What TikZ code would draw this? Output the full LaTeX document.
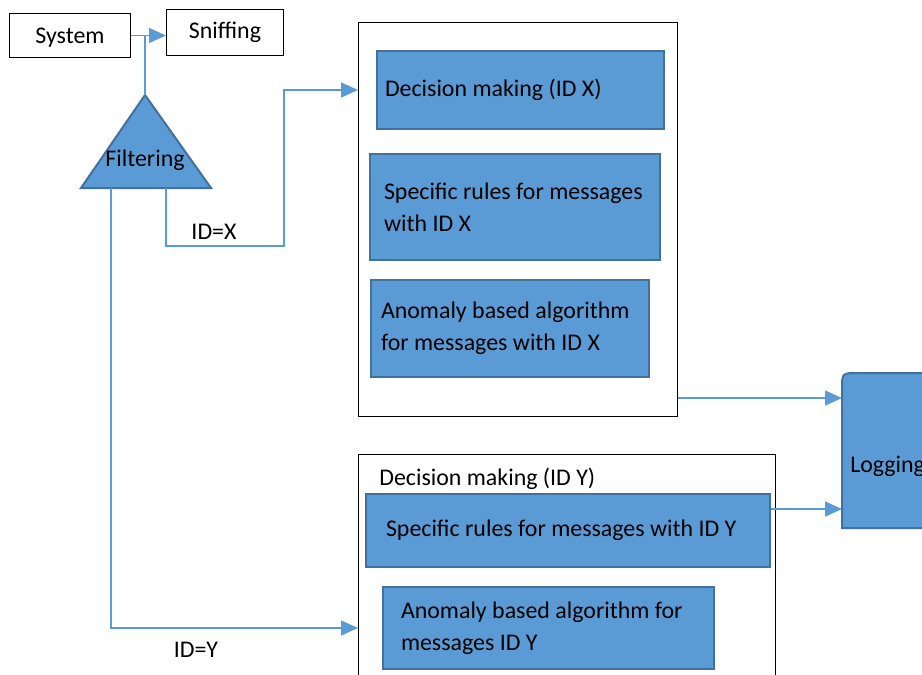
\documentclass[tikz,border=0pt]{standalone}
\usepackage{fontspec}
\setmainfont{Carlito}
\usetikzlibrary{arrows.meta,calc}
\definecolor{boxfill}{RGB}{91,155,213}
\definecolor{boxline}{RGB}{65,113,156}
\newlength\px
\setlength\px{0.02cm}

\begin{document}
\begin{tikzpicture}[
    x=1\px, y=-1\px,
    font=\fontsize{13.6}{18}\selectfont,
    plain/.style={draw=black, line width=1\px, fill=white, anchor=north west, inner sep=0pt},
    blk/.style={draw=boxline, fill=boxfill, line width=2\px, anchor=north west, align=flush left, inner ysep=0pt},
    conn/.style={draw=boxfill, line width=1.6\px},
    arr/.style={conn, -{Triangle[length=0.34cm,width=0.3cm]}}
]
\useasboundingbox (0,0) rectangle (922,674);
\clip (0,0) rectangle (922,674);

% top row
\node[plain, minimum width=121\px, minimum height=44\px, text depth=-3\px] (sys) at (9,13) {System};
\node[plain, minimum width=117\px, minimum height=46\px] (snf) at (166,9) {Sniffing};

% filter
\coordinate (apex) at (145,95);
\coordinate (bl) at (81,188);
\coordinate (br) at (211,188);
\draw[draw=boxline, fill=boxfill, line width=2\px] (apex) -- (br) -- (bl) -- cycle;
\node (filt) at (145,160) {Filtering};
\coordinate (outx) at (166,188);
\coordinate (outy) at (111,188);

% group X
\node[plain, minimum width=319\px, minimum height=394\px] (grpx) at (358,22) {};
\node[blk, minimum height=78\px, inner xsep=8\px, text width=271\px] (decx) at (376,50) {Decision making (ID X)};
\node[blk, minimum height=106\px, inner xsep=14\px, text width=262\px] (spx) at (369,153) {Specific rules for messages\\with ID X};
\node[blk, minimum height=97\px, inner xsep=10\px, text width=258\px] (anox) at (370,279) {Anomaly based algorithm\\for messages with ID X};

% group Y
\node[plain, minimum width=417\px, minimum height=260\px] (grpy) at (358,454) {};
\node[anchor=west, inner sep=0pt] (decy) at (379,479) {Decision making (ID Y)};
\node[blk, minimum height=73\px, inner xsep=20\px, text width=364\px] (spy) at (365,493) {Specific rules for messages with ID Y};
\node[blk, minimum height=82\px, inner xsep=18\px, text width=295\px] (anoy) at (382,586) {Anomaly based algorithm for\\messages ID Y};

% logging
\draw[draw=boxline, fill=boxfill, line width=2\px] (950,528) -- (842,528) -- (842,389) .. controls (842,373) .. (858,373) -- (950,373) -- cycle;
\node[anchor=west, inner xsep=8\px, inner ysep=0pt] (log) at (842,466) {Logging};

% connectors
\draw[arr] (sys.east) -- (sys.east -| snf.west);
\draw[conn] (apex) -- (apex |- sys.east);
\draw[arr] (outx) |- (284,246) |- (decx.west -| grpx.west);
\draw[arr] (outy) |- (anoy.west -| grpy.west);
\coordinate (xout) at ($(grpx.south east)+(0,-19)$);
\coordinate (yout) at ($(spy.north east)+(0,16)$);
\draw[arr] (xout) -- (xout -| log.west);
\draw[arr] (yout) -- (yout -| log.west);

\node (idx) at (214,232) {ID=X};
\node (idy) at (196,650) {ID=Y};
\end{tikzpicture}
\end{document}
